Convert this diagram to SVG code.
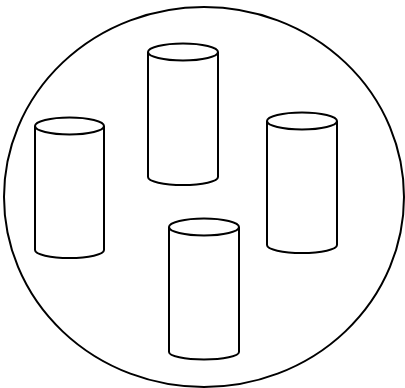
<svg xmlns="http://www.w3.org/2000/svg" width="405" height="388" viewBox="0 0 405 388">
<style>
.s{fill:none;stroke:#000;stroke-width:2}
.b{fill:#fff;stroke:#000;stroke-width:2}
</style>
<rect width="405" height="388" fill="#fff"/>
<g id="boundary"><ellipse class="s" cx="204" cy="197" rx="200" ry="190"/></g>
<g id="cyl-top">
<path class="b" d="M148,52 V177 A35,8 0 0 0 218,177 V52"/>
<ellipse class="b" cx="183" cy="52" rx="35" ry="8.5"/>
</g>
<g id="cyl-left">
<path class="b" d="M35,126 V250 A34.5,8 0 0 0 104,250 V126"/>
<ellipse class="b" cx="69.5" cy="126" rx="34.5" ry="8.5"/>
</g>
<g id="cyl-right">
<path class="b" d="M267,121 V245 A35,8 0 0 0 337,245 V121"/>
<ellipse class="b" cx="302" cy="121" rx="35" ry="8.5"/>
</g>
<g id="cyl-bottom">
<path class="b" d="M169,227 V352 A35,7.5 0 0 0 239,352 V227"/>
<ellipse class="b" cx="204" cy="227" rx="35" ry="8.5"/>
</g>
<g id="connectors"></g>
</svg>
